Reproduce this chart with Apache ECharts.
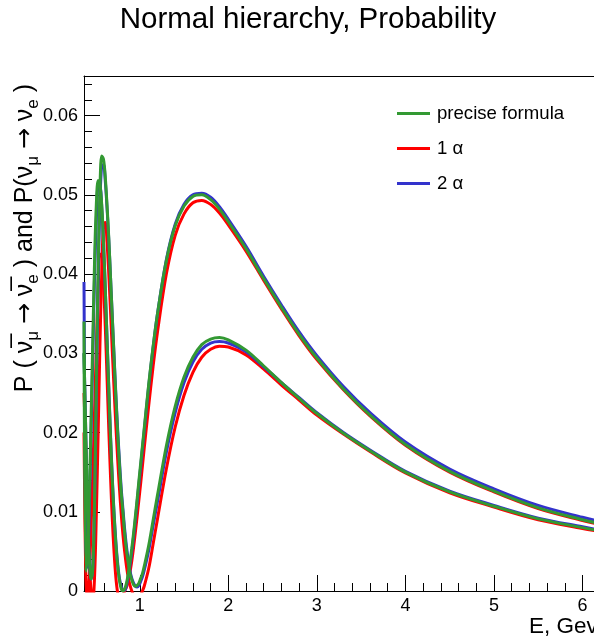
<!DOCTYPE html>
<html><head><meta charset="utf-8">
<script src="https://cdn.jsdelivr.net/npm/echarts@6/dist/echarts.min.js"></script>
<style>html,body{margin:0;padding:0;background:#fff}#c{width:594px;height:644px}</style>
</head><body><div id="c"></div>
<script>
const energy = [0.37,0.39,0.41,0.43,0.45,0.47,0.49,0.51,0.53,0.55,0.57,0.59,0.61,0.63,0.65,0.67,0.69,0.71,0.73,0.75,0.77,0.79,0.81,0.83,0.85,0.87,0.89,0.91,0.93,0.95,0.97,0.99,1.01,1.03,1.05,
  1.1,1.15,1.2,1.3,1.4,1.5,1.6,1.7,1.8,1.9,2.0,2.2,2.4,2.6,2.8,3.0,3.3,3.6,4.0,4.5,5.0,5.5,6.0,6.2];

const nuPrecise = [0.034,0.0025,0.005,0.012,0.022,0.032,0.042,0.049,0.0518,0.0512,0.0488,0.0441,0.0383,0.0318,0.0255,0.0193,0.0139,0.0095,0.0059,0.0032,0.0014,0.0003,0.0,0.0003,0.0010,0.0022,0.0037,0.0054,0.0073,0.0094,0.0116,0.0139,0.0161,0.0183,0.0205,
  0.0260,0.0308,0.0350,0.0417,0.0461,0.0486,0.0498,0.0500,0.0494,0.0482,0.0466,0.0432,0.0394,0.0358,0.0324,0.0294,0.0255,0.0222,0.0185,0.0151,0.0126,0.0105,0.0090,0.0085];
const nu2a = [0.039,0.006,0.003,0.010,0.020,0.030,0.040,0.047,0.051,0.051,0.0485,0.0440,0.0383,0.0320,0.0257,0.0196,0.0142,0.0098,0.0062,0.0035,0.0016,0.0006,0.0001,0.0001,0.0007,0.0018,0.0033,0.0050,0.0069,0.0090,0.0112,0.0135,0.0157,0.0180,0.0202,
  0.0258,0.0307,0.0350,0.0418,0.0463,0.0488,0.0500,0.0502,0.0497,0.0485,0.0469,0.0435,0.0397,0.0361,0.0327,0.0297,0.0258,0.0225,0.0188,0.0154,0.0129,0.0108,0.0093,0.0088];
const nu1a = [0.020,0.002,-0.001,0.002,0.008,0.015,0.023,0.031,0.038,0.0425,0.0425,0.0387,0.0335,0.0270,0.0204,0.0143,0.0090,0.0048,0.0017,-0.0002,-0.0010,-0.0008,-0.0005,0.0000,0.0005,0.0012,0.0024,0.0038,0.0055,0.0074,0.0094,0.0115,0.0136,0.0158,0.0180,
  0.0233,0.0283,0.0327,0.0400,0.0449,0.0476,0.0490,0.0493,0.0488,0.0477,0.0462,0.0429,0.0392,0.0356,0.0322,0.0292,0.0254,0.0221,0.0184,0.0150,0.0125,0.0104,0.0089,0.0084];

const nubarPrecise = [0.030,0.020,0.010,0.004,0.0015,0.003,0.012,0.0267,0.0409,0.0506,0.0549,0.0545,0.0523,0.0487,0.0445,0.0395,0.0344,0.0294,0.0245,0.0200,0.0160,0.0125,0.0099,0.0072,0.0051,0.0035,0.0022,0.0014,0.0008,0.0006,0.0007,0.0010,0.0016,0.0022,0.0031,
  0.0057,0.0089,0.0121,0.0183,0.0233,0.0270,0.0295,0.0311,0.0318,0.0320,0.0317,0.0304,0.0284,0.0263,0.0243,0.0224,0.0199,0.0177,0.0150,0.0125,0.0107,0.0091,0.0080,0.0076];
const nubar2a = [0.030,0.020,0.010,0.004,0.0015,0.003,0.011,0.025,0.039,0.049,0.0537,0.0538,0.0518,0.0484,0.0443,0.0395,0.0345,0.0296,0.0248,0.0204,0.0165,0.0130,0.0103,0.0077,0.0056,0.0039,0.0025,0.0016,0.0010,0.0006,0.0005,0.0007,0.0012,0.0018,0.0026,
  0.0051,0.0082,0.0113,0.0175,0.0225,0.0263,0.0289,0.0305,0.0313,0.0315,0.0313,0.0302,0.0283,0.0263,0.0244,0.0225,0.0200,0.0178,0.0151,0.0126,0.0108,0.0092,0.0081,0.0077];
const nubar1a = [0.025,0.018,0.010,0.004,0.000,-0.001,0.002,0.010,0.020,0.031,0.040,0.0462,0.0465,0.0440,0.0400,0.0352,0.0302,0.0254,0.0208,0.0167,0.0130,0.0098,0.0071,0.0049,0.0031,0.0017,0.0007,0.0000,-0.0005,-0.0008,-0.0009,-0.0008,-0.0005,0.0000,0.0006,
  0.0028,0.0059,0.0091,0.0154,0.0207,0.0247,0.0276,0.0295,0.0305,0.0309,0.0308,0.0298,0.0280,0.0260,0.0241,0.0222,0.0198,0.0176,0.0149,0.0124,0.0106,0.0090,0.0079,0.0075];

const xMajorTicks = [1,2,3,4,5,6];
const xMinorTicks = [0.4,0.6,0.8,1.2,1.4,1.6,1.8,2.2,2.4,2.6,2.8,3.2,3.4,3.6,3.8,4.2,4.4,4.6,4.8,5.2,5.4,5.6,5.8];
const legendNames = ['precise formula','1 \u03b1','2 \u03b1'];
const colors = {'precise formula':'#339933','1 \u03b1':'#ff0000','2 \u03b1':'#3333cc'};

const FONT = '"Liberation Sans", Arial, Helvetica, sans-serif';
const X_MIN = 0.37, X_MAX = 6.13, Y_MAX = 0.065;

const chart = echarts.init(document.getElementById('c'), null, {renderer:'canvas'});

function mk(name, arr){
  return {
    name, type:'line', xAxisIndex:0, yAxisIndex:0,
    data: energy.map((e,i)=>[e, arr[i]]),
    smooth: 0.35, symbol:'none', clip:true,
    lineStyle:{color:colors[name], width:3}, itemStyle:{color:colors[name]},
    emphasis:{disabled:true}, animation:false
  };
}

const option = {
  backgroundColor:'#fff',
  animation:false,
  grid:{left:84, top:76, right:0, height:515, show:false, containLabel:false},
  legend:{
    data: legendNames, orient:'vertical', left:397, top:104, padding:0, icon:'rect',
    itemWidth:33, itemHeight:3, itemGap:16,
    textStyle:{fontFamily:FONT, fontSize:18.6, color:'#000', padding:[0,0,0,2]},
    selectedMode:false
  },
  xAxis:[
    {type:'value', min:X_MIN, max:X_MAX, position:'bottom',
     axisLine:{show:true, onZero:false, lineStyle:{color:'#000', width:1}},
     axisTick:{show:true, inside:true, length:16, customValues:xMajorTicks, lineStyle:{color:'#000'}},
     axisLabel:{show:true, customValues:xMajorTicks, fontFamily:FONT, fontSize:18, color:'#000', margin:6},
     splitLine:{show:false}},
    {type:'value', min:X_MIN, max:X_MAX, position:'bottom',
     axisLine:{show:false, onZero:false},
     axisTick:{show:true, inside:true, length:8, customValues:xMinorTicks, lineStyle:{color:'#000'}},
     axisLabel:{show:false}, splitLine:{show:false}},
    {type:'value', min:X_MIN, max:X_MAX, position:'top',
     axisLine:{show:true, onZero:false, lineStyle:{color:'#000', width:1}},
     axisTick:{show:false}, axisLabel:{show:false}, splitLine:{show:false}}
  ],
  yAxis:[
    {type:'value', min:0, max:Y_MAX, interval:0.01, position:'left',
     axisLine:{show:true, onZero:false, lineStyle:{color:'#000', width:1}},
     axisTick:{show:true, inside:true, length:16, lineStyle:{color:'#000'}},
     axisLabel:{show:true, fontFamily:FONT, fontSize:18, color:'#000', margin:6, showMaxLabel:false,
       formatter:v=> v===0 ? '0' : v.toFixed(2)},
     splitLine:{show:false}},
    {type:'value', min:0, max:Y_MAX, interval:0.002, position:'left',
     axisLine:{show:false, onZero:false},
     axisTick:{show:true, inside:true, length:8, lineStyle:{color:'#000'}},
     axisLabel:{show:false}, splitLine:{show:false}}
  ],
  graphic:[
    {type:'text', x:308, y:20, style:{text:'Normal hierarchy, Probability', font:'29.5px '+FONT, fill:'#000', align:'center', verticalAlign:'middle'}},
    {type:'text', x:529, y:627, style:{text:'E, Gev', font:'22.5px '+FONT, fill:'#000', align:'left', verticalAlign:'middle'}},
    {type:'text', x:25, y:84, rotation:Math.PI/2,
     style:{
       text:'P ( {b|\u03bd\u0305}{s|\u03bc} {a|\u2192} {b|\u03bd\u0305}{s|e} ) and P(\u03bd{s|\u03bc} {a|\u2192} \u03bd{s|e} )',
       font:'25px '+FONT, fill:'#000', align:'right', verticalAlign:'middle',
       rich:{
         b:{fontSize:25, fontFamily:FONT, lineHeight:34, verticalAlign:'middle'},
         a:{fontSize:25, fontFamily:'"DejaVu Sans", sans-serif', lineHeight:34, verticalAlign:'middle'},
         s:{fontSize:17, fontFamily:FONT, lineHeight:18, verticalAlign:'bottom'}
       }
     }}
  ],
  series:[
    mk('1 \u03b1', nu1a), mk('1 \u03b1', nubar1a),
    mk('2 \u03b1', nu2a), mk('2 \u03b1', nubar2a),
    mk('precise formula', nuPrecise), mk('precise formula', nubarPrecise)
  ]
};
chart.setOption(option);
</script></body></html>
